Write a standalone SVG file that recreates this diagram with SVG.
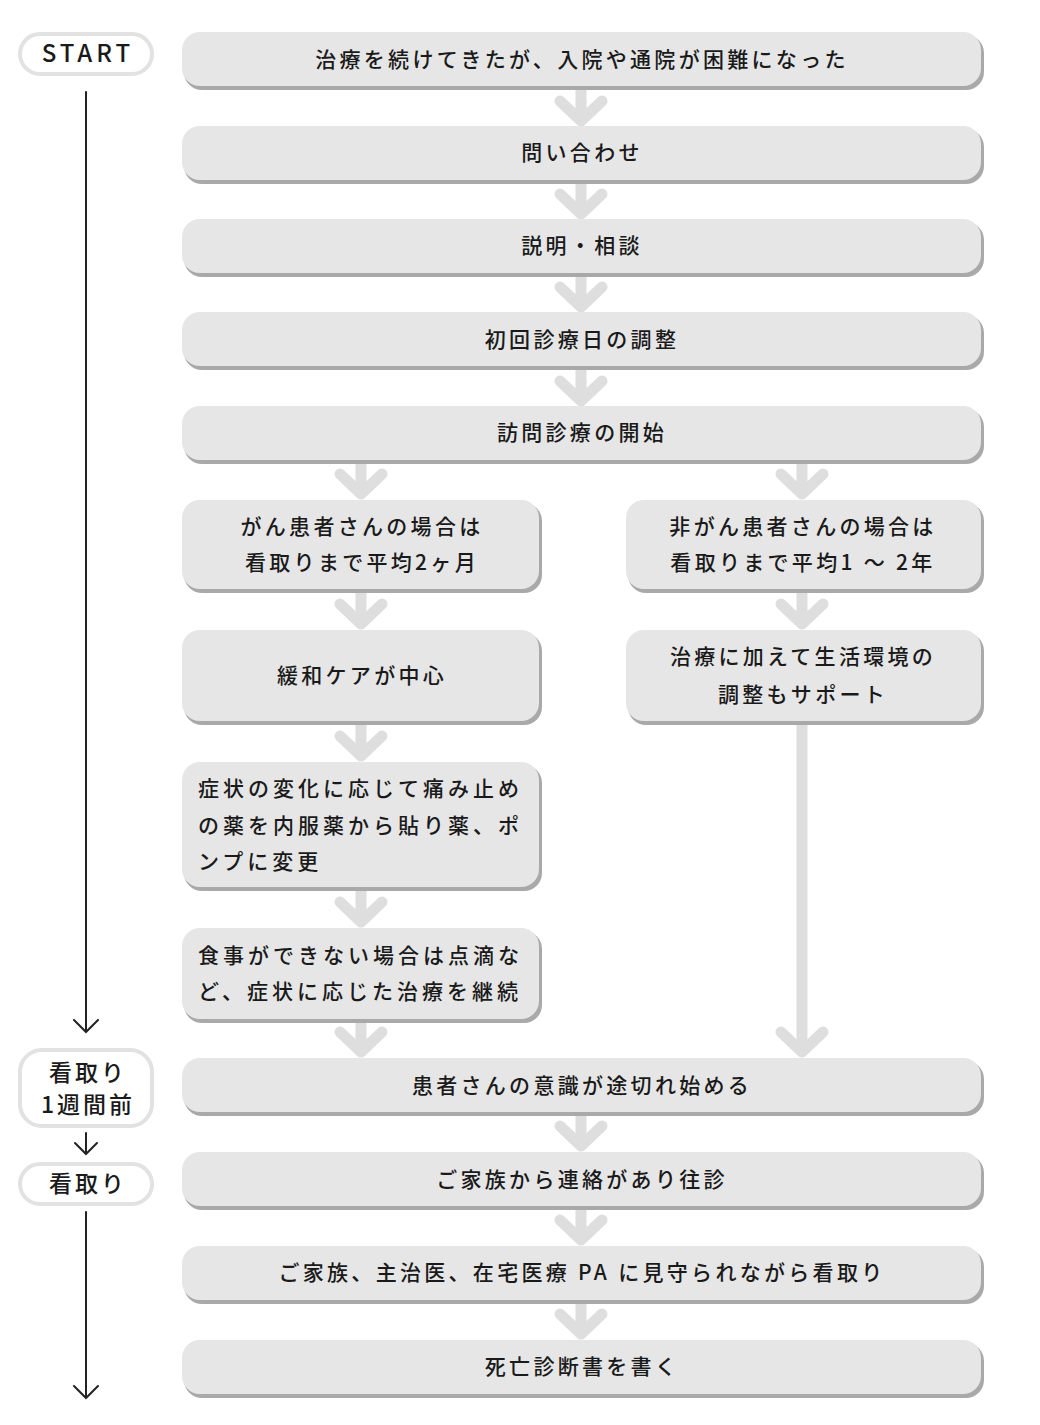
<svg xmlns="http://www.w3.org/2000/svg" width="1040" height="1425" viewBox="0 0 1040 1425">
<defs>
<style>
.t{font-family:"Noto Sans CJK JP","Noto Sans CJK SC",sans-serif;font-size:21px;fill:#1a1a1a;letter-spacing:3.3px;font-weight:500}
.c{text-anchor:middle}
.sh{fill:#a9a9a9}
.bx{fill:#e6e6e6}
.pill{fill:#fff;stroke:#e2e2e2;stroke-width:4}
.ga{fill:none;stroke:#dedede;stroke-width:11;stroke-linecap:round;stroke-linejoin:round}
.bk{fill:none;stroke:#222;stroke-width:2;stroke-linecap:round;stroke-linejoin:miter}
.lt{font-family:"Noto Sans CJK JP",sans-serif;font-size:23px;fill:#1a1a1a;text-anchor:middle;letter-spacing:3px;font-weight:500}
</style>
</defs>
<rect width="1040" height="1425" fill="#fff"/>

<g id="connectors">
  <path class="ga" d="M581 90V117 M560 101L581 121L602 101"/>
  <path class="ga" d="M581 184V210 M560 194L581 214L602 194"/>
  <path class="ga" d="M581 277V303 M560 287L581 307L602 287"/>
  <path class="ga" d="M581 370V397 M560 381L581 401L602 381"/>
  <path class="ga" d="M361 464V490 M340 474L361 494L382 474"/>
  <path class="ga" d="M802 464V490 M781 474L802 494L823 474"/>
  <path class="ga" d="M361 593V621 M340 604L361 624L382 604"/>
  <path class="ga" d="M802 593V621 M781 604L802 624L823 604"/>
  <path class="ga" d="M361 725V753 M340 736L361 756L382 736"/>
  <path class="ga" d="M361 891V919 M340 902L361 922L382 902"/>
  <path class="ga" d="M361 1023V1049 M340 1032L361 1052L382 1032"/>
  <path class="ga" d="M802 725V1049 M781 1032L802 1052L823 1032"/>
  <path class="ga" d="M581 1116V1143 M560 1126L581 1146L602 1126"/>
  <path class="ga" d="M581 1210V1237 M560 1220L581 1240L602 1220"/>
  <path class="ga" d="M581 1304V1331 M560 1314L581 1334L602 1314"/>
  <path class="bk" d="M86 92V1032 M74 1020L86 1032L98 1020"/>
  <path class="bk" d="M86 1133V1154 M75 1143L86 1154L97 1143"/>
  <path class="bk" d="M86 1212V1398 M74 1386L86 1398L98 1386"/>
</g>

<g id="start">
  <rect class="pill" x="20" y="34" width="132" height="40" rx="20"/>
  <text class="lt" x="88" y="62" style="font-size:24px;letter-spacing:4px">START</text>
</g>
<g id="week-before">
  <rect class="pill" x="20" y="1050" width="132" height="76" rx="22"/>
  <text class="lt" x="88" y="1081">看取り</text>
  <text class="lt" x="88" y="1113">1週間前</text>
</g>
<g id="mitori">
  <rect class="pill" x="20" y="1164" width="132" height="40" rx="20"/>
  <text class="lt" x="88" y="1192">看取り</text>
</g>

<g id="n1">
  <rect class="sh" x="184" y="35" width="800" height="55" rx="18"/>
  <rect class="bx" x="182" y="32" width="799" height="54" rx="18"/>
  <text class="t c" x="582" y="67">治療を続けてきたが、入院や通院が困難になった</text>
</g>
<g id="n2">
  <rect class="sh" x="184" y="129" width="800" height="55" rx="18"/>
  <rect class="bx" x="182" y="126" width="799" height="54" rx="18"/>
  <text class="t c" x="582" y="160">問い合わせ</text>
</g>
<g id="n3">
  <rect class="sh" x="184" y="222" width="800" height="55" rx="18"/>
  <rect class="bx" x="182" y="219" width="799" height="54" rx="18"/>
  <text class="t c" x="582" y="253">説明・相談</text>
</g>
<g id="n4">
  <rect class="sh" x="184" y="315" width="800" height="55" rx="18"/>
  <rect class="bx" x="182" y="312" width="799" height="54" rx="18"/>
  <text class="t c" x="582" y="347">初回診療日の調整</text>
</g>
<g id="n5">
  <rect class="sh" x="184" y="409" width="800" height="55" rx="18"/>
  <rect class="bx" x="182" y="406" width="799" height="54" rx="18"/>
  <text class="t c" x="582" y="440">訪問診療の開始</text>
</g>

<g id="cancer">
  <rect class="sh" x="184" y="503" width="358" height="90" rx="18"/>
  <rect class="bx" x="182" y="500" width="357" height="89" rx="18"/>
  <text class="t c" x="362" y="534">がん患者さんの場合は</text>
  <text class="t c" x="362" y="570">看取りまで平均2ヶ月</text>
</g>
<g id="noncancer">
  <rect class="sh" x="628" y="503" width="356" height="90" rx="18"/>
  <rect class="bx" x="626" y="500" width="355" height="89" rx="18"/>
  <text class="t c" x="803" y="534">非がん患者さんの場合は</text>
  <text class="t c" x="803" y="570">看取りまで平均1 ～ 2年</text>
</g>
<g id="palliative">
  <rect class="sh" x="184" y="633" width="358" height="92" rx="18"/>
  <rect class="bx" x="182" y="630" width="357" height="91" rx="18"/>
  <text class="t c" x="362" y="683">緩和ケアが中心</text>
</g>
<g id="living">
  <rect class="sh" x="628" y="633" width="356" height="92" rx="18"/>
  <rect class="bx" x="626" y="630" width="355" height="91" rx="18"/>
  <text class="t c" x="803" y="664">治療に加えて生活環境の</text>
  <text class="t c" x="803" y="702">調整もサポート</text>
</g>
<g id="symptom">
  <rect class="sh" x="184" y="765" width="358" height="126" rx="18"/>
  <rect class="bx" x="182" y="762" width="357" height="125" rx="18"/>
  <text class="t" x="198" y="796" style="letter-spacing:4px">症状の変化に応じて痛み止め</text>
  <text class="t" x="198" y="833" style="letter-spacing:4px">の薬を内服薬から貼り薬、ポ</text>
  <text class="t" x="198" y="869" style="letter-spacing:4px">ンプに変更</text>
</g>
<g id="meal">
  <rect class="sh" x="184" y="931" width="358" height="92" rx="18"/>
  <rect class="bx" x="182" y="928" width="357" height="91" rx="18"/>
  <text class="t" x="198" y="963" style="letter-spacing:4px">食事ができない場合は点滴な</text>
  <text class="t" x="198" y="999" style="letter-spacing:4px">ど、症状に応じた治療を継続</text>
</g>

<g id="n6">
  <rect class="sh" x="184" y="1061" width="800" height="55" rx="18"/>
  <rect class="bx" x="182" y="1058" width="799" height="54" rx="18"/>
  <text class="t c" x="582" y="1093">患者さんの意識が途切れ始める</text>
</g>
<g id="n7">
  <rect class="sh" x="184" y="1155" width="800" height="55" rx="18"/>
  <rect class="bx" x="182" y="1152" width="799" height="54" rx="18"/>
  <text class="t c" x="582" y="1187">ご家族から連絡があり往診</text>
</g>
<g id="n8">
  <rect class="sh" x="184" y="1249" width="800" height="55" rx="18"/>
  <rect class="bx" x="182" y="1246" width="799" height="54" rx="18"/>
  <text class="t c" x="582" y="1280">ご家族、主治医、在宅医療 PA に見守られながら看取り</text>
</g>
<g id="n9">
  <rect class="sh" x="184" y="1343" width="800" height="55" rx="18"/>
  <rect class="bx" x="182" y="1340" width="799" height="54" rx="18"/>
  <text class="t c" x="582" y="1374">死亡診断書を書く</text>
</g>
</svg>
